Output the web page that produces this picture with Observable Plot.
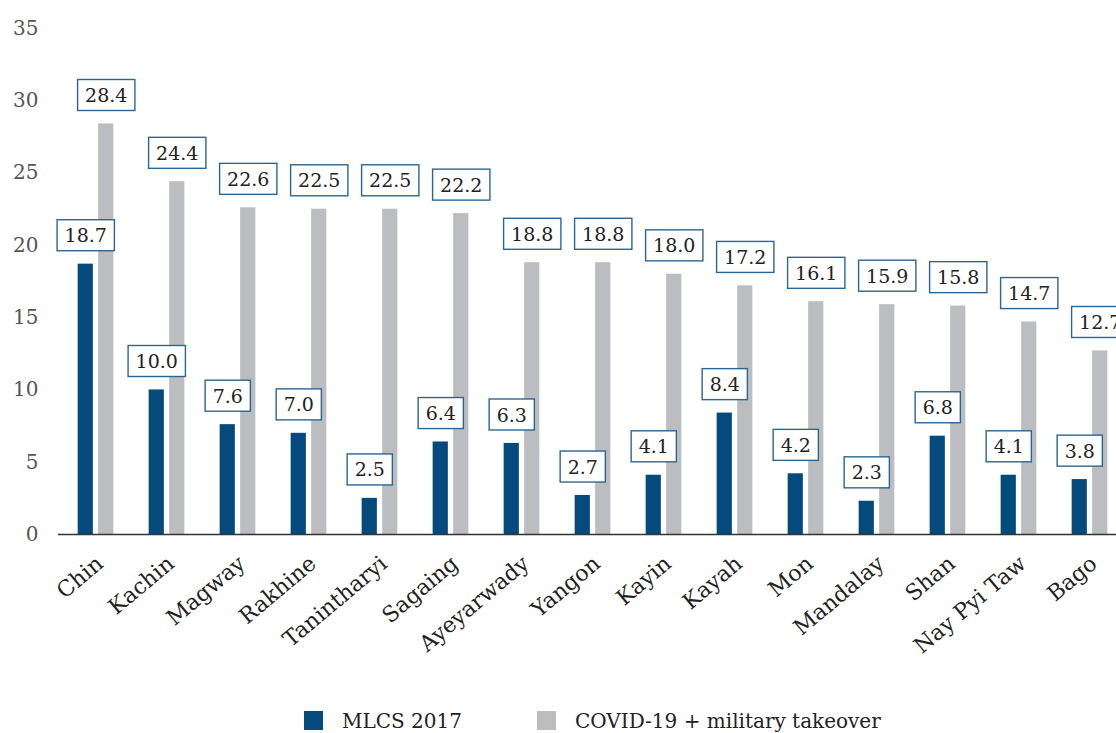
<!DOCTYPE html>
<html>
<head>
<meta charset="utf-8">
<script src="https://cdn.jsdelivr.net/npm/d3@7"></script>
<script src="https://cdn.jsdelivr.net/npm/@observablehq/plot@0.6"></script>
<style>
  html, body { margin: 0; padding: 0; background: #fff; overflow: hidden; }
  #legend { position: relative; height: 33px; margin-top: 4px; font-family: "DejaVu Serif", serif; font-size: 20px; color: #222; }
  .item { position: absolute; top: 0; display: flex; align-items: center; height: 33px; }
  .sw { width: 19px; height: 19px; margin-right: 19px; }
</style>
</head>
<body>
<div id="chart"></div>
<div id="legend">
  <div class="item" style="left:304px"><div class="sw" style="background:#054a7c"></div>MLCS 2017</div>
  <div class="item" style="left:537px"><div class="sw" style="background:#bcbdc1"></div>COVID-19 + military takeover</div>
</div>
<script>
const regions = ["Chin","Kachin","Magway","Rakhine","Tanintharyi","Sagaing","Ayeyarwady","Yangon","Kayin","Kayah","Mon","Mandalay","Shan","Nay Pyi Taw","Bago"];
const mlcs2017 = [18.7,10.0,7.6,7.0,2.5,6.4,6.3,2.7,4.1,8.4,4.2,2.3,6.8,4.1,3.8];
const covidTakeover = [28.4,24.4,22.6,22.5,22.5,22.2,18.8,18.8,18.0,17.2,16.1,15.9,15.8,14.7,12.7];
const yTicks = [0,5,10,15,20,25,30,35];

const rows = regions.map((r, i) => ({region: r, mlcs: mlcs2017[i], covid: covidTakeover[i]}));

const blue = "#054a7c", gray = "#bcbdc1";
const off = 10.25, inset = 27.9;

const chart = Plot.plot({
  width: 1116,
  height: 700,
  marginLeft: 58,
  marginRight: 0,
  marginTop: 28,
  marginBottom: 166,
  style: {fontFamily: "DejaVu Serif, serif", fontSize: "19px", background: "white", color: "#222"},
  x: {domain: regions, range: [58, 1127], padding: 0},
  y: {domain: [0, 35]},
  marks: [
    Plot.barY(rows, {x: "region", y: "mlcs", fill: blue, dx: -off, insetLeft: inset, insetRight: inset}),
    Plot.barY(rows, {x: "region", y: "covid", fill: gray, dx: off, insetLeft: inset, insetRight: inset}),
    Plot.ruleY([0], {stroke: "#333", strokeWidth: 1.5}),
    Plot.axisY({ticks: yTicks, tickSize: 0, tickPadding: 20, fill: "#555", fontSize: 20, label: null}),
    Plot.axisX({tickSize: 0, tickRotate: -40, tickPadding: 26, dx: 4, fill: "#222", fontSize: 22, label: null}),
    Plot.text(rows, {x: "region", y: "mlcs", text: d => d.mlcs.toFixed(1), dx: -off, dy: -28, fill: "#222", fontSize: 19, className: "vlab"}),
    Plot.text(rows, {x: "region", y: "covid", text: d => d.covid.toFixed(1), dx: off, dy: -28, fill: "#222", fontSize: 19, className: "vlab"})
  ]
});
document.getElementById("chart").appendChild(chart);

// draw boxes behind value labels
chart.querySelectorAll("g.vlab text").forEach(t => {
  const b = t.getBBox();
  const r = document.createElementNS("http://www.w3.org/2000/svg", "rect");
  r.setAttribute("x", b.x - 7.5);
  r.setAttribute("y", b.y - 4.5);
  r.setAttribute("width", b.width + 15);
  r.setAttribute("height", b.height + 9);
  r.setAttribute("fill", "white");
  r.setAttribute("stroke", "#2b6595");
  r.setAttribute("stroke-width", 1.4);
  const tr = t.getAttribute("transform");
  if (tr) r.setAttribute("transform", tr);
  t.parentNode.insertBefore(r, t);
});
</script>
</body>
</html>
